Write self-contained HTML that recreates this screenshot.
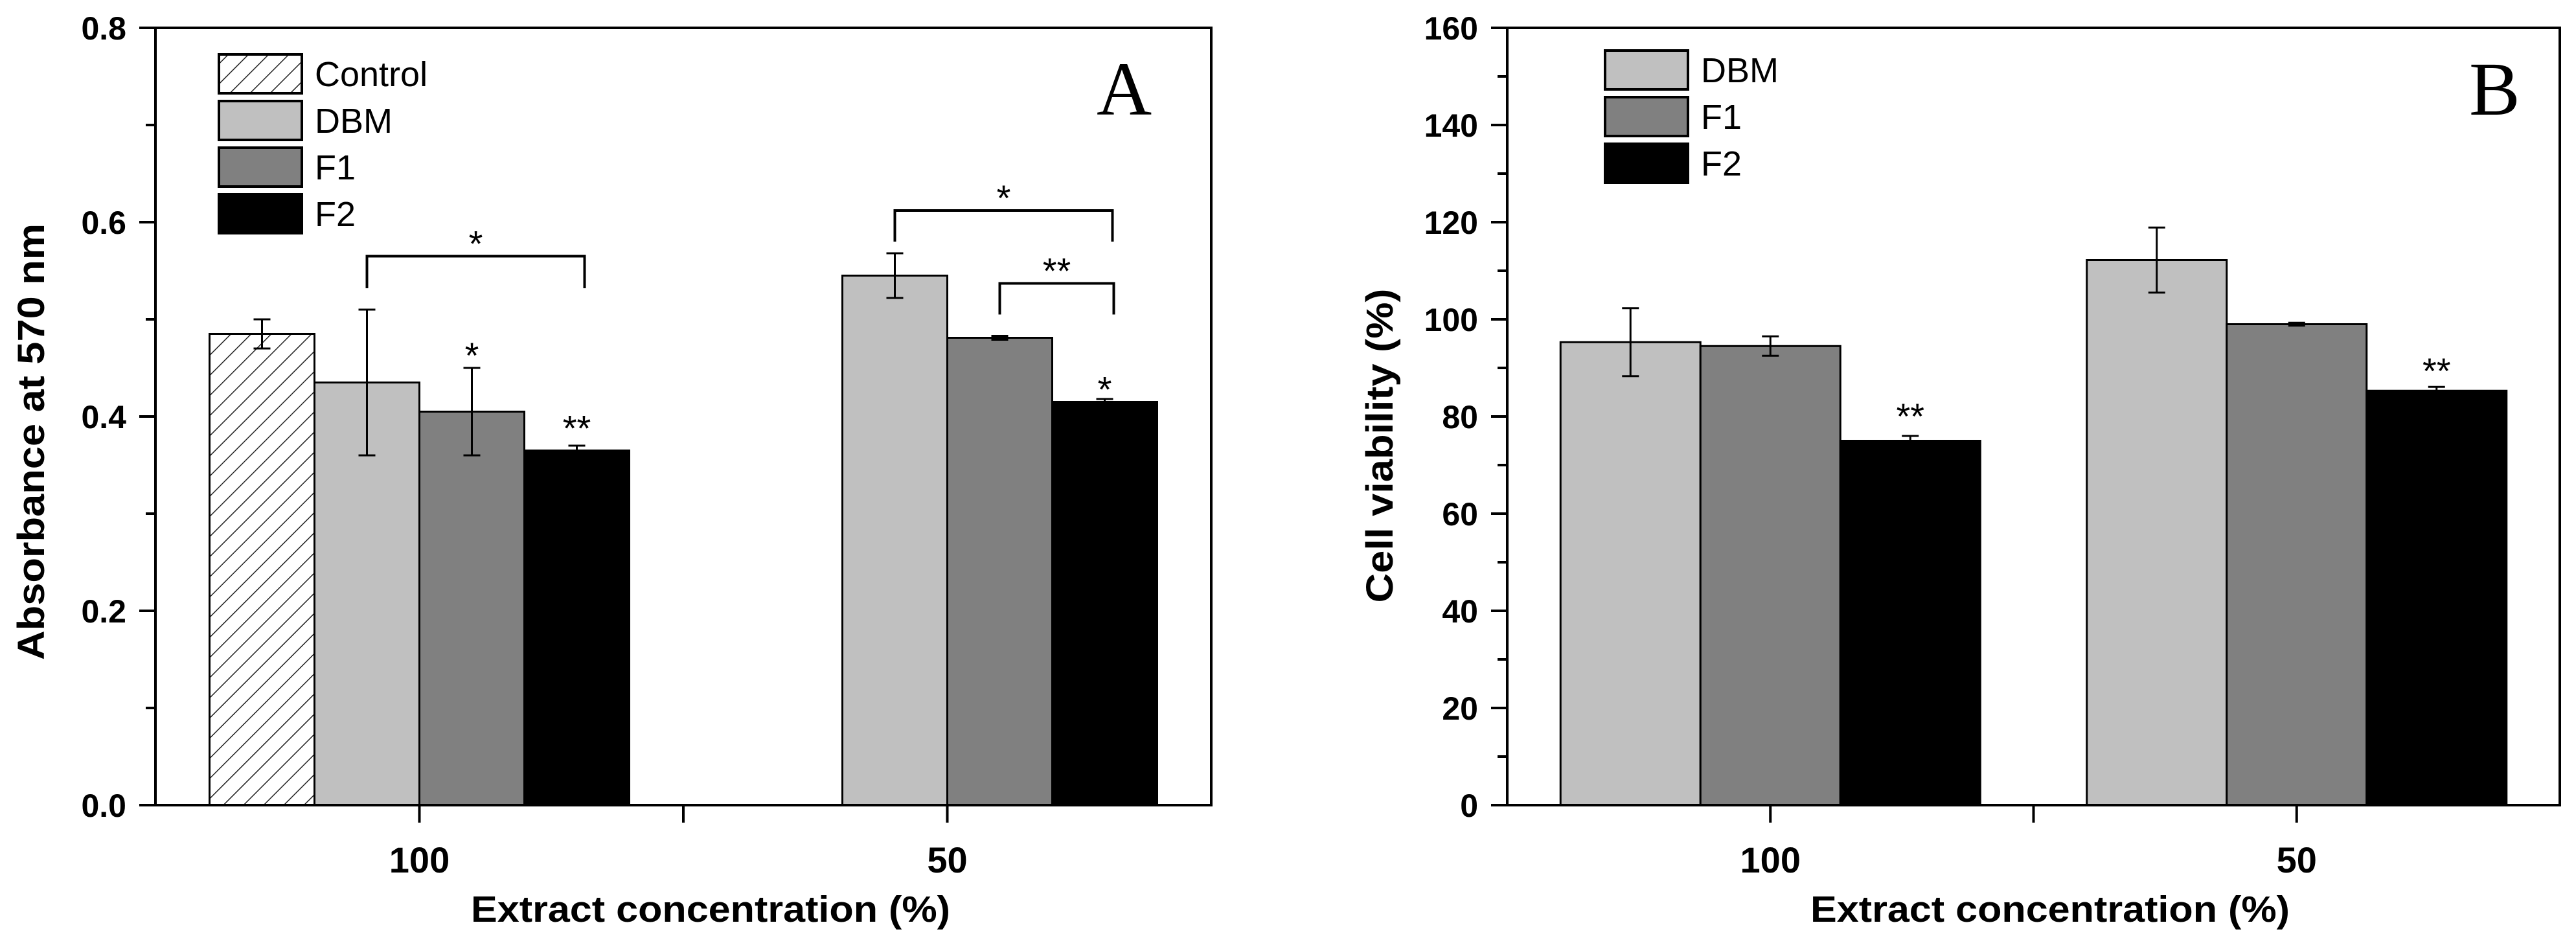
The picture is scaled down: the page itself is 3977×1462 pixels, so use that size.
<!DOCTYPE html>
<html><head><meta charset="utf-8"><style>
html,body{margin:0;padding:0;background:#fff;}
svg{display:block;font-family:"Liberation Sans",Arial,sans-serif;}
</style></head><body>
<svg id="fig" width="3977" height="1462" viewBox="0 0 3977 1462" xmlns="http://www.w3.org/2000/svg">
<defs>
<pattern id="hatch" patternUnits="userSpaceOnUse" width="22" height="22" patternTransform="rotate(45)">
<rect width="22" height="22" fill="#fff"/><line x1="0" y1="0" x2="0" y2="22" stroke="#222" stroke-width="3"/>
</pattern>
</defs>
</svg>
<script>
// Panel A data
const aGroups = ["100", "50"];
const aSeries = ["Control", "DBM", "F1", "F2"];
const aValues100 = [0.485, 0.435, 0.405, 0.365];
const aErr100 = [0.015, 0.075, 0.045, 0.005];
const aValues50 = [null, 0.545, 0.481, 0.415];
const aErr50 = [0, 0.023, 0.002, 0.003];
const aTicks = [0, 0.2, 0.4, 0.6, 0.8];
const aTickLabels = ["0.0", "0.2", "0.4", "0.6", "0.8"];
// Panel B data
const bGroups = ["100", "50"];
const bSeries = ["DBM", "F1", "F2"];
const bValues100 = [95.3, 94.5, 75.0];
const bErr100 = [7.0, 2.0, 1.0];
const bValues50 = [112.2, 99.0, 85.3];
const bErr50 = [6.7, 0.3, 0.8];
const bTicks = [0, 20, 40, 60, 80, 100, 120, 140, 160];

const NS = "http://www.w3.org/2000/svg";
const svg = document.getElementById('fig');
function mk(tag, attrs, parent, text) {
  const e = document.createElementNS(NS, tag);
  for (const k in attrs) e.setAttribute(k, attrs[k]);
  if (text !== undefined) e.textContent = text;
  (parent || svg).appendChild(e);
  return e;
}
const fills = {Control: "url(#hatch)", DBM: "#c0c0c0", F1: "#808080", F2: "#000000"};

function panel(cfg) {
  const g = mk('g', {});
  
  
  const X0 = cfg.x0, X1 = cfg.x1, Y0 = 1243, Y1 = 43;
  const y = v => Y0 - (v - cfg.ymin) / (cfg.ymax - cfg.ymin) * (Y0 - Y1);
  const step = (X1 - X0) / 4;
  const gx = i => X0 + step * (1 + 2 * i);
  cfg.groups.forEach((gname, gi) => {
    const vals = gi === 0 ? cfg.v0 : cfg.v1;
    const errs = gi === 0 ? cfg.e0 : cfg.e1;
    vals.forEach((v, si) => {
      if (v === null) return;
      const left = gx(gi) + (si + cfg.offset) * cfg.bw;
      const r = mk('rect', {x: left, y: y(v), width: cfg.bw, height: Y0 - y(v), fill: fills[cfg.series[si]], stroke: "#000", "stroke-width": 3}, g);
      
      
      const cx = left + cfg.bw / 2, e = errs[si];
      if (e > 0) {
        const eg = mk('g', {stroke: "#000", "stroke-width": 3}, g);
        
        
        mk('line', {x1: cx, x2: cx, y1: y(v - e), y2: y(v + e)}, eg);
        mk('line', {x1: cx - 13, x2: cx + 13, y1: y(v - e), y2: y(v - e)}, eg);
        mk('line', {x1: cx - 13, x2: cx + 13, y1: y(v + e), y2: y(v + e)}, eg);
      }
    });
  });
  const fr = mk('rect', {x: X0, y: Y1, width: X1 - X0, height: Y0 - Y1, fill: "none", stroke: "#000", "stroke-width": 4}, g);
  
  
  cfg.ticks.forEach((t, i) => {
    mk('line', {x1: X0 - 25, x2: X0, y1: y(t), y2: y(t), stroke: "#000", "stroke-width": 4}, g);
    const lb = mk('text', {x: X0 - 45, y: y(t) + 18, "text-anchor": "end", "font-size": 50, "font-weight": "bold"}, g, cfg.tickLabels ? cfg.tickLabels[i] : String(t));
    
    
    if (i < cfg.ticks.length - 1) {
      const m = (t + cfg.ticks[i + 1]) / 2;
      mk('line', {x1: X0 - 15, x2: X0, y1: y(m), y2: y(m), stroke: "#000", "stroke-width": 4}, g);
    }
  });
  [gx(0), (X0 + X1) / 2, gx(1)].forEach(xx => mk('line', {x1: xx, x2: xx, y1: Y0, y2: Y0 + 27, stroke: "#000", "stroke-width": 4}, g));
  cfg.groups.forEach((gname, gi) => {
    const t = mk('text', {x: gx(gi), y: 1347, "text-anchor": "middle", "font-size": 56, "font-weight": "bold"}, g, gname);
    
    
  });
  const xt = mk('text', {x: cfg.xtx, y: 1423, "text-anchor": "middle", "font-size": 57, "font-weight": "bold", textLength: 740, lengthAdjust: "spacingAndGlyphs"}, g, "Extract concentration (%)");
  
  
  const yt = mk('text', {x: 0, y: 0, "text-anchor": "middle", "font-size": 58, "font-weight": "bold", textLength: cfg.ytl, lengthAdjust: "spacingAndGlyphs", transform: `translate(${cfg.ytx},${cfg.yty}) rotate(-90)`}, g, cfg.ytitle);
  
  
  const pl = mk('text', {x: cfg.lx, y: 177, "font-family": "Liberation Serif, serif", "font-size": 118}, g, cfg.letter);
  
  
  const lg = mk('g', {}, g);
  
  
  cfg.series.forEach((s, i) => {
    const top = cfg.ly + i * 72;
    const ent = mk('g', {}, lg);
    
    
    mk('rect', {x: cfg.lbx, y: top, width: 128, height: 60, fill: fills[s], stroke: "#000", "stroke-width": 4}, ent);
    mk('text', {x: cfg.lbx + 148, y: top + 49, "font-size": 54}, ent, s);
  });
  return {g, y, gx};
}

const A = panel({name: 'panel-a', x0: 240, x1: 1870, ymin: 0, ymax: 0.8, groups: aGroups, series: aSeries,
  v0: aValues100, e0: aErr100, v1: aValues50, e1: aErr50, bw: 162, offset: -2, ticks: aTicks, tickLabels: aTickLabels,
  xtx: 1097, ytx: 68, yty: 682, ytl: 674, ytitle: "Absorbance at 570 nm", letter: "A", lx: 1693, lbx: 338, ly: 84});
const B = panel({name: 'panel-b', x0: 2327, x1: 3952, ymin: 0, ymax: 160, groups: bGroups, series: bSeries,
  v0: bValues100, e0: bErr100, v1: bValues50, e1: bErr50, bw: 216, offset: -1.5, ticks: bTicks,
  xtx: 3165, ytx: 2150, yty: 688, ytl: 485, ytitle: "Cell viability (%)", letter: "B", lx: 3812, lbx: 2478, ly: 78});

function barC(P, gi, si, bw, off) { return P.gx(gi) + (si + off + 0.5) * bw; }
function star(P, x, v, s, name) {
  const t = mk('text', {x: x, y: P.y(v) + 30, "text-anchor": "middle", "font-size": 56}, P.g, s);
  
  
}
function bracket(P, x1, x2, top, bot, s, name) {
  const b = mk('polyline', {points: `${x1},${P.y(bot)} ${x1},${P.y(top)} ${x2},${P.y(top)} ${x2},${P.y(bot)}`, fill: "none", stroke: "#000", "stroke-width": 4}, P.g);
  
  
  star(P, (x1 + x2) / 2, top + 0.02, s, name + '-label');
}
bracket(A, barC(A, 0, 1, 162, -2), barC(A, 0, 3, 162, -2) + 12, 0.565, 0.532, "*", 'bracket-100');
bracket(A, barC(A, 1, 1, 162, -2), barC(A, 1, 3, 162, -2) + 12, 0.612, 0.58, "*", 'bracket-50-outer');
bracket(A, barC(A, 1, 2, 162, -2), barC(A, 1, 3, 162, -2) + 14, 0.537, 0.505, "**", 'bracket-50-inner');
star(A, barC(A, 0, 2, 162, -2), 0.47, "*", 'sig-f1-100');
star(A, barC(A, 0, 3, 162, -2), 0.395, "**", 'sig-f2-100');
star(A, barC(A, 1, 3, 162, -2), 0.435, "*", 'sig-f2-50');
star(B, barC(B, 0, 2, 216, -1.5), 81.5, "**", 'sig-f2-100');
star(B, barC(B, 1, 2, 216, -1.5), 90.8, "**", 'sig-f2-50');
</script>
</body></html>
